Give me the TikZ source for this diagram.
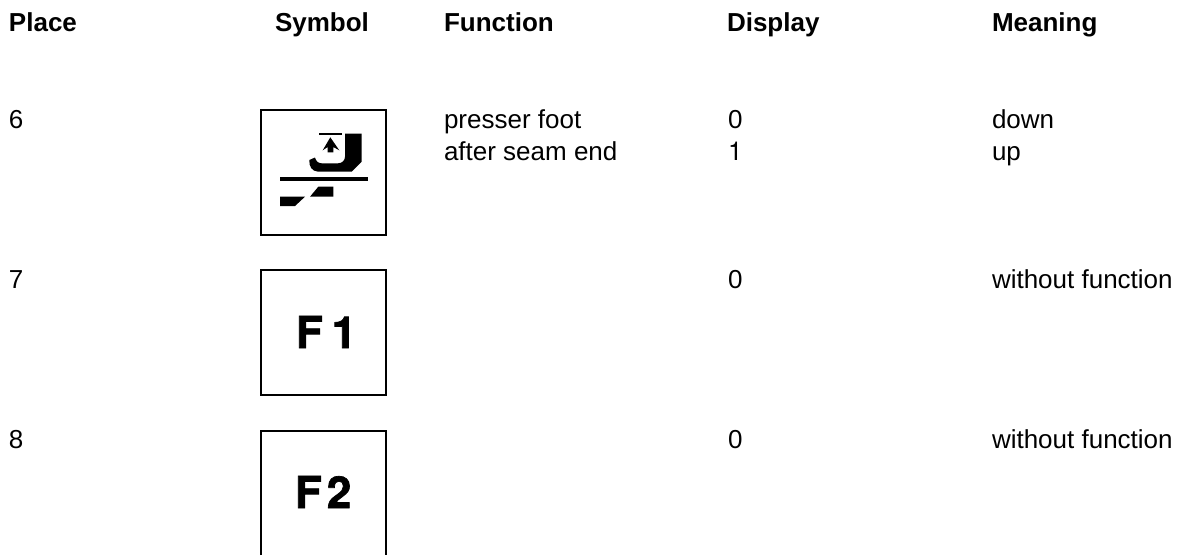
\documentclass[tikz,border=0pt]{standalone}
\usepackage{fontspec}
\setmainfont{Liberation Sans}
\newfontfamily\keyfont[FakeBold=1.6]{TeX Gyre Heros Bold}
\newfontfamily\digitfont{TeX Gyre Heros}
\begin{document}
\begin{tikzpicture}[x=1pt,y=-1pt,
  cell/.style={anchor=base west,inner sep=0pt,outer sep=0pt,font=\fontsize{26}{30}\selectfont,text=black},
  head/.style={cell,font=\fontsize{26}{30}\selectfont\bfseries},
  fkey/.style={anchor=base west,inner sep=0pt,outer sep=0pt,font=\fontsize{44}{48}\keyfont},
  keybox/.style={draw=black,line width=2pt}]
\useasboundingbox (0,0) rectangle (1181,555);
\node[head] (h1) at (9,31.7) {Place};
\node[head] (h2) at (275,31.7) {Symbol};
\node[head] (h3) at (444,31.7) {Function};
\node[head] (h4) at (727,31.7) {Display};
\node[head] (h5) at (992,31.7) {Meaning};
\node[cell] (p6) at (9,128) {6};
\node[cell] (p7) at (9,288) {7};
\node[cell] (p8) at (9,448) {8};
\node[cell] (f1) at (444,128) {presser foot};
\node[cell] (f2) at (444,160) {after seam end};
\node[cell] (d1) at (728,128) {0};
\node[cell] (d2) at (728,160) {\digitfont 1};
\node[cell] (d3) at (728,288) {0};
\node[cell] (d4) at (728,448) {0};
\node[cell] (m1) at (992,128) {down};
\node[cell] (m2) at (992,160) {up};
\node[cell] (m3) at (992,288) {without function};
\node[cell] (m4) at (992,448) {without function};
% key boxes
\draw[keybox] (260.5,109.5) rectangle (386,235);
\draw[keybox] (260.5,269.5) rectangle (386,395);
\draw[keybox] (260.5,555) -- (260.5,430.5) -- (385.5,430.5) -- (385.5,555);
\node[fkey] (k1) at (296,348) {F\kern9pt 1};
\node[fkey] (k2) at (295,508) {F\kern5pt 2};
% presser-foot symbol
\fill (319.3,132.7) rectangle (341.7,134.7);
\fill (327.7,152.3) -- (327.7,147) -- (322.7,150.3) -- (330.3,137.3) -- (339.3,150.3) -- (333.3,147) -- (333.3,152.3) -- cycle;
\fill (345,133.5) -- (361.7,133.5) -- (361.7,161.7) -- (351.7,171.7) -- (318,171.7)
  .. controls (312,171) and (309,167) .. (309.3,160) -- (315,157.5)
  .. controls (316,161) and (318,163.3) .. (321.7,163.3) -- (338,163.3)
  .. controls (342,163.3) and (345,160.5) .. (345,156.7) -- cycle;
\fill (280,176.7) rectangle (368,180.7);
\fill (310,196.7) -- (318.3,186.7) -- (333.3,186.7) -- (333.3,196.7) -- cycle;
\fill (280,196.7) -- (305,196.7) -- (295,206) -- (280,206) -- cycle;
\end{tikzpicture}
\end{document}
